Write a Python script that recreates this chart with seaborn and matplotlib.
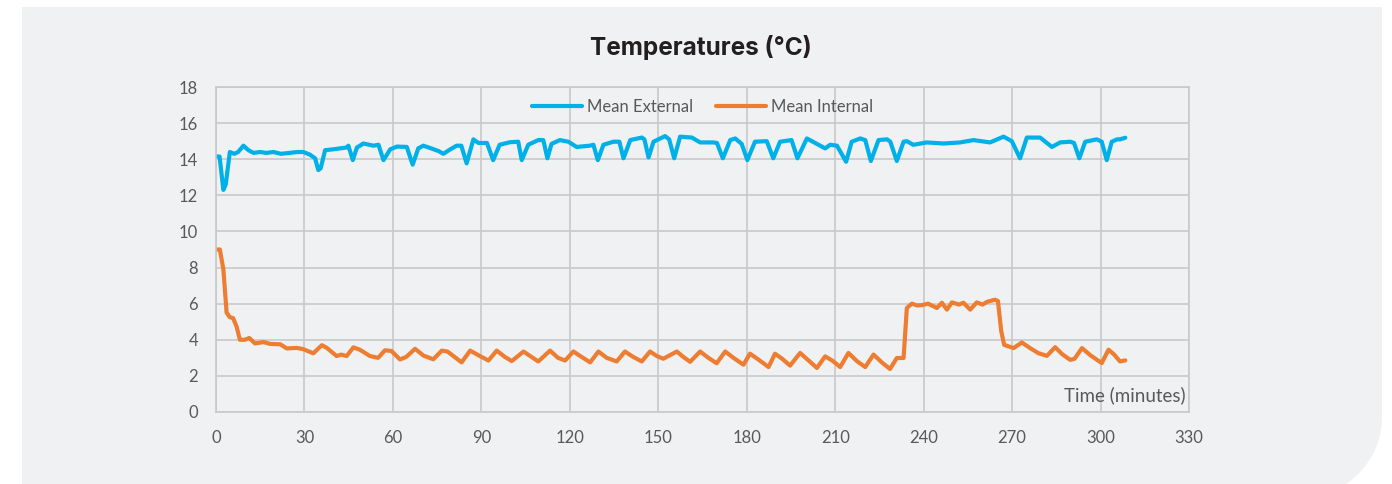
import matplotlib
matplotlib.use("Agg")
import matplotlib.pyplot as plt
from matplotlib.patches import Rectangle, Circle
from matplotlib.transforms import IdentityTransform
import seaborn as sns

# Mean external temperature (minutes, deg C)
ext_time = [0, 1.2, 2.5, 3.3, 4.7, 6.2, 7.5, 9.3, 11, 12.7, 15, 17, 19.5, 22, 25, 27.5,
            29.6, 31.9, 33.6, 34.7, 35.5, 37, 39.8, 42, 44.3, 44.9, 46.4, 47.8, 50, 52,
            53.4, 55.1, 56.8, 59.1, 61.4, 64.7, 66.7, 68.6, 70.3, 73, 75.5, 77.1, 79.5,
            81.6, 83.2, 85, 87.3, 89, 91.9, 94, 96.2, 99.6, 102.5, 103.7, 105.9, 109.3,
            111, 112.4, 113.8, 116.6, 119.5, 122.3, 126.8, 128, 129.5, 131.4, 134.8,
            136.8, 138.2, 140.5, 144.4, 145.3, 146.7, 148.4, 152.3, 153.7, 155.4, 157.4,
            161.4, 164.2, 168.7, 169.9, 171.9, 174.4, 176.1, 178.3, 180.2, 182.8, 186.8,
            189, 191.3, 195.2, 197.2, 200.4, 203.8, 206.6, 208.3, 210.6, 213.7, 215.6,
            218.5, 220.2, 222.1, 224.7, 227.6, 228.7, 230.9, 233.2, 234.3, 236.5, 241.1,
            246.7, 252.4, 256.9, 262.5, 267.1, 269.9, 272.7, 275, 279.5, 283.5, 286.3,
            289.7, 291, 292.8, 294.8, 298.7, 300.4, 302.1, 303.8, 305.6, 306.6, 308.4]
ext_temp = [14.15, 14.15, 12.3, 12.6, 14.4, 14.3, 14.4, 14.75, 14.5, 14.35, 14.4, 14.35,
            14.4, 14.3, 14.35, 14.4, 14.4, 14.25, 14.05, 13.4, 13.5, 14.5, 14.55, 14.6,
            14.65, 14.75, 13.95, 14.65, 14.87, 14.8, 14.75, 14.8, 13.95, 14.55, 14.7,
            14.68, 13.7, 14.6, 14.75, 14.6, 14.45, 14.3, 14.55, 14.75, 14.75, 13.77,
            15.1, 14.9, 14.9, 13.95, 14.8, 14.94, 14.97, 13.95, 14.8, 15.06, 15.06,
            14.05, 14.85, 15.06, 14.97, 14.68, 14.75, 14.8, 13.95, 14.8, 14.97, 14.97,
            14.05, 15.06, 15.2, 15.1, 14.1, 14.97, 15.28, 15.1, 14.05, 15.25, 15.2,
            14.93, 14.93, 14.9, 14.05, 15.06, 15.15, 14.85, 13.95, 14.97, 15.0, 14.05,
            14.97, 15.06, 14.05, 15.15, 14.85, 14.6, 14.8, 14.75, 13.86, 14.97, 15.15,
            15.06, 13.9, 15.06, 15.1, 14.97, 13.9, 14.97, 15.0, 14.8, 14.93, 14.87,
            14.93, 15.06, 14.93, 15.25, 15.0, 14.05, 15.2, 15.2, 14.68, 14.93, 14.97,
            14.9, 14.05, 14.97, 15.1, 14.97, 13.95, 14.97, 15.1, 15.1, 15.19]

# Mean internal temperature (minutes, deg C)
int_time = [0, 1.3, 2.5, 3.6, 4.7, 5.8, 7.0, 8.1, 9.8, 11.3, 13.2, 16.1, 18.4, 21.8, 24.0,
            27.4, 29.6, 33.0, 35.9, 37.6, 40.9, 42.5, 44.3, 46.6, 48.8, 52.2, 55.0, 57.3,
            59.5, 62.4, 64.5, 67.5, 70.4, 73.7, 76.6, 78.5, 83.3, 86.2, 89.5, 92.4, 95.2,
            98, 100.3, 104.3, 107, 109.3, 113.3, 116, 118.4, 121.2, 124, 126.9, 129.7,
            132.5, 135.9, 138.7, 141.5, 144.4, 147.2, 149.5, 151.7, 156.3, 158.5, 160.8,
            164.2, 167, 169.8, 172.7, 175.5, 178.9, 181.1, 184, 187.4, 189.6, 192, 194.7,
            198.1, 201, 203.8, 206.6, 209, 211.7, 214.5, 217.5, 220.2, 223, 225.8, 228.6,
            230.9, 233.2, 234.3, 236, 237.8, 239.4, 241.5, 244.5, 246.2, 247.9, 249.6,
            252, 253.5, 255.8, 258, 260, 261.5, 264.2, 265.2, 266.3, 267.3, 270.5, 273.3,
            276, 278.9, 281.8, 284.6, 287, 289.7, 291.2, 293.7, 296.5, 300.4, 302.7,
            304.5, 306.6, 308.4]
int_temp = [9.0, 9.0, 7.9, 5.5, 5.25, 5.2, 4.72, 4.0, 4.0, 4.1, 3.8, 3.87, 3.77, 3.75,
            3.52, 3.55, 3.48, 3.25, 3.7, 3.55, 3.1, 3.18, 3.1, 3.58, 3.45, 3.1, 3.0, 3.42,
            3.38, 2.91, 3.05, 3.5, 3.12, 2.92, 3.4, 3.35, 2.75, 3.4, 3.1, 2.85, 3.4, 3.05,
            2.82, 3.35, 3.05, 2.8, 3.4, 3.0, 2.85, 3.35, 3.05, 2.75, 3.35, 3.0, 2.8, 3.35,
            3.05, 2.8, 3.35, 3.1, 2.95, 3.35, 3.05, 2.78, 3.35, 3.0, 2.7, 3.35, 3.0, 2.62,
            3.23, 2.9, 2.49, 3.23, 2.95, 2.57, 3.27, 2.85, 2.44, 3.08, 2.85, 2.49, 3.27,
            2.8, 2.49, 3.18, 2.75, 2.38, 2.99, 2.99, 5.76, 6.0, 5.9, 5.92, 6.0, 5.76,
            6.05, 5.67, 6.07, 5.95, 6.05, 5.67, 6.07, 5.95, 6.1, 6.22, 6.15, 4.5, 3.72,
            3.54, 3.85, 3.55, 3.26, 3.11, 3.59, 3.2, 2.89, 2.95, 3.54, 3.15, 2.71, 3.45,
            3.2, 2.8, 2.86]

x_ticks = [0, 30, 60, 90, 120, 150, 180, 210, 240, 270, 300, 330]
y_ticks = [0, 2, 4, 6, 8, 10, 12, 14, 16, 18]

PANEL = "#F0F1F3"
GRID = "#C9C9C9"
TEXT = "#595959"
BLUE = "#00B0E8"
ORANGE = "#ED7D31"

sns.set_theme(style="white")
plt.rcParams["font.family"] = ["Lato", "DejaVu Sans"]

W, H = 1392, 484
fig = plt.figure(figsize=(W / 100, H / 100), dpi=100, facecolor="white")

# light panel behind the chart, rounded at the lower right corner
px = IdentityTransform()
R = 80
left, right, top = 22, 1382, H - 7
for patch in (
    Rectangle((left, R - 13), right - left, top - (R - 13), transform=px),
    Rectangle((left, -40), right - R - left, top + 40, transform=px),
    Circle((right - R, R - 13), R, transform=px),
):
    patch.set_facecolor(PANEL)
    patch.set_edgecolor("none")
    patch.set_zorder(-5)
    fig.patches.append(patch)

ax = fig.add_axes([216 / W, 1 - 412 / H, (1189 - 216) / W, (412 - 87) / H])
ax.set_facecolor(PANEL)
ax.set_zorder(1)

sns.lineplot(x=ext_time, y=ext_temp, ax=ax, color=BLUE, linewidth=3.0,
             label="Mean External")
sns.lineplot(x=int_time, y=int_temp, ax=ax, color=ORANGE, linewidth=3.0,
             label="Mean Internal")

ax.set_xlim(0, 330)
ax.set_ylim(0, 18)
ax.set_xticks(x_ticks)
ax.set_yticks(y_ticks)
ax.set_xticklabels([str(v) for v in x_ticks])
ax.set_yticklabels([str(v) for v in y_ticks])
ax.tick_params(axis="both", length=0, labelsize=12, labelcolor=TEXT)
ax.tick_params(axis="x", pad=13)
ax.tick_params(axis="y", pad=13)
ax.grid(True, color=GRID, linewidth=1.2)
ax.set_axisbelow(True)
for sp in ax.spines.values():
    sp.set_visible(True)
    sp.set_color(GRID)
    sp.set_linewidth(1.2)

ax.set_ylabel("")
ax.set_xlabel("Time (minutes)", fontsize=13.5, color=TEXT)
ax.xaxis.set_label_coords(0.997, 0.025)
ax.xaxis.label.set_ha("right")
ax.xaxis.label.set_va("bottom")

leg = ax.legend(loc="upper center", bbox_to_anchor=(0.5, 1.01), ncol=2,
                frameon=False, fontsize=12, handlelength=3.0, handletextpad=0.3,
                columnspacing=1.4)
for t in leg.get_texts():
    t.set_color(TEXT)

fig.text(701 / W, 1 - 47 / H, "Temperatures (°C)", ha="center", va="center",
         fontsize=17.5, fontweight="bold", color="#231F20",
         family=["Inter", "DejaVu Sans"], zorder=2)

fig.savefig("out.png", dpi=100, facecolor="white")
